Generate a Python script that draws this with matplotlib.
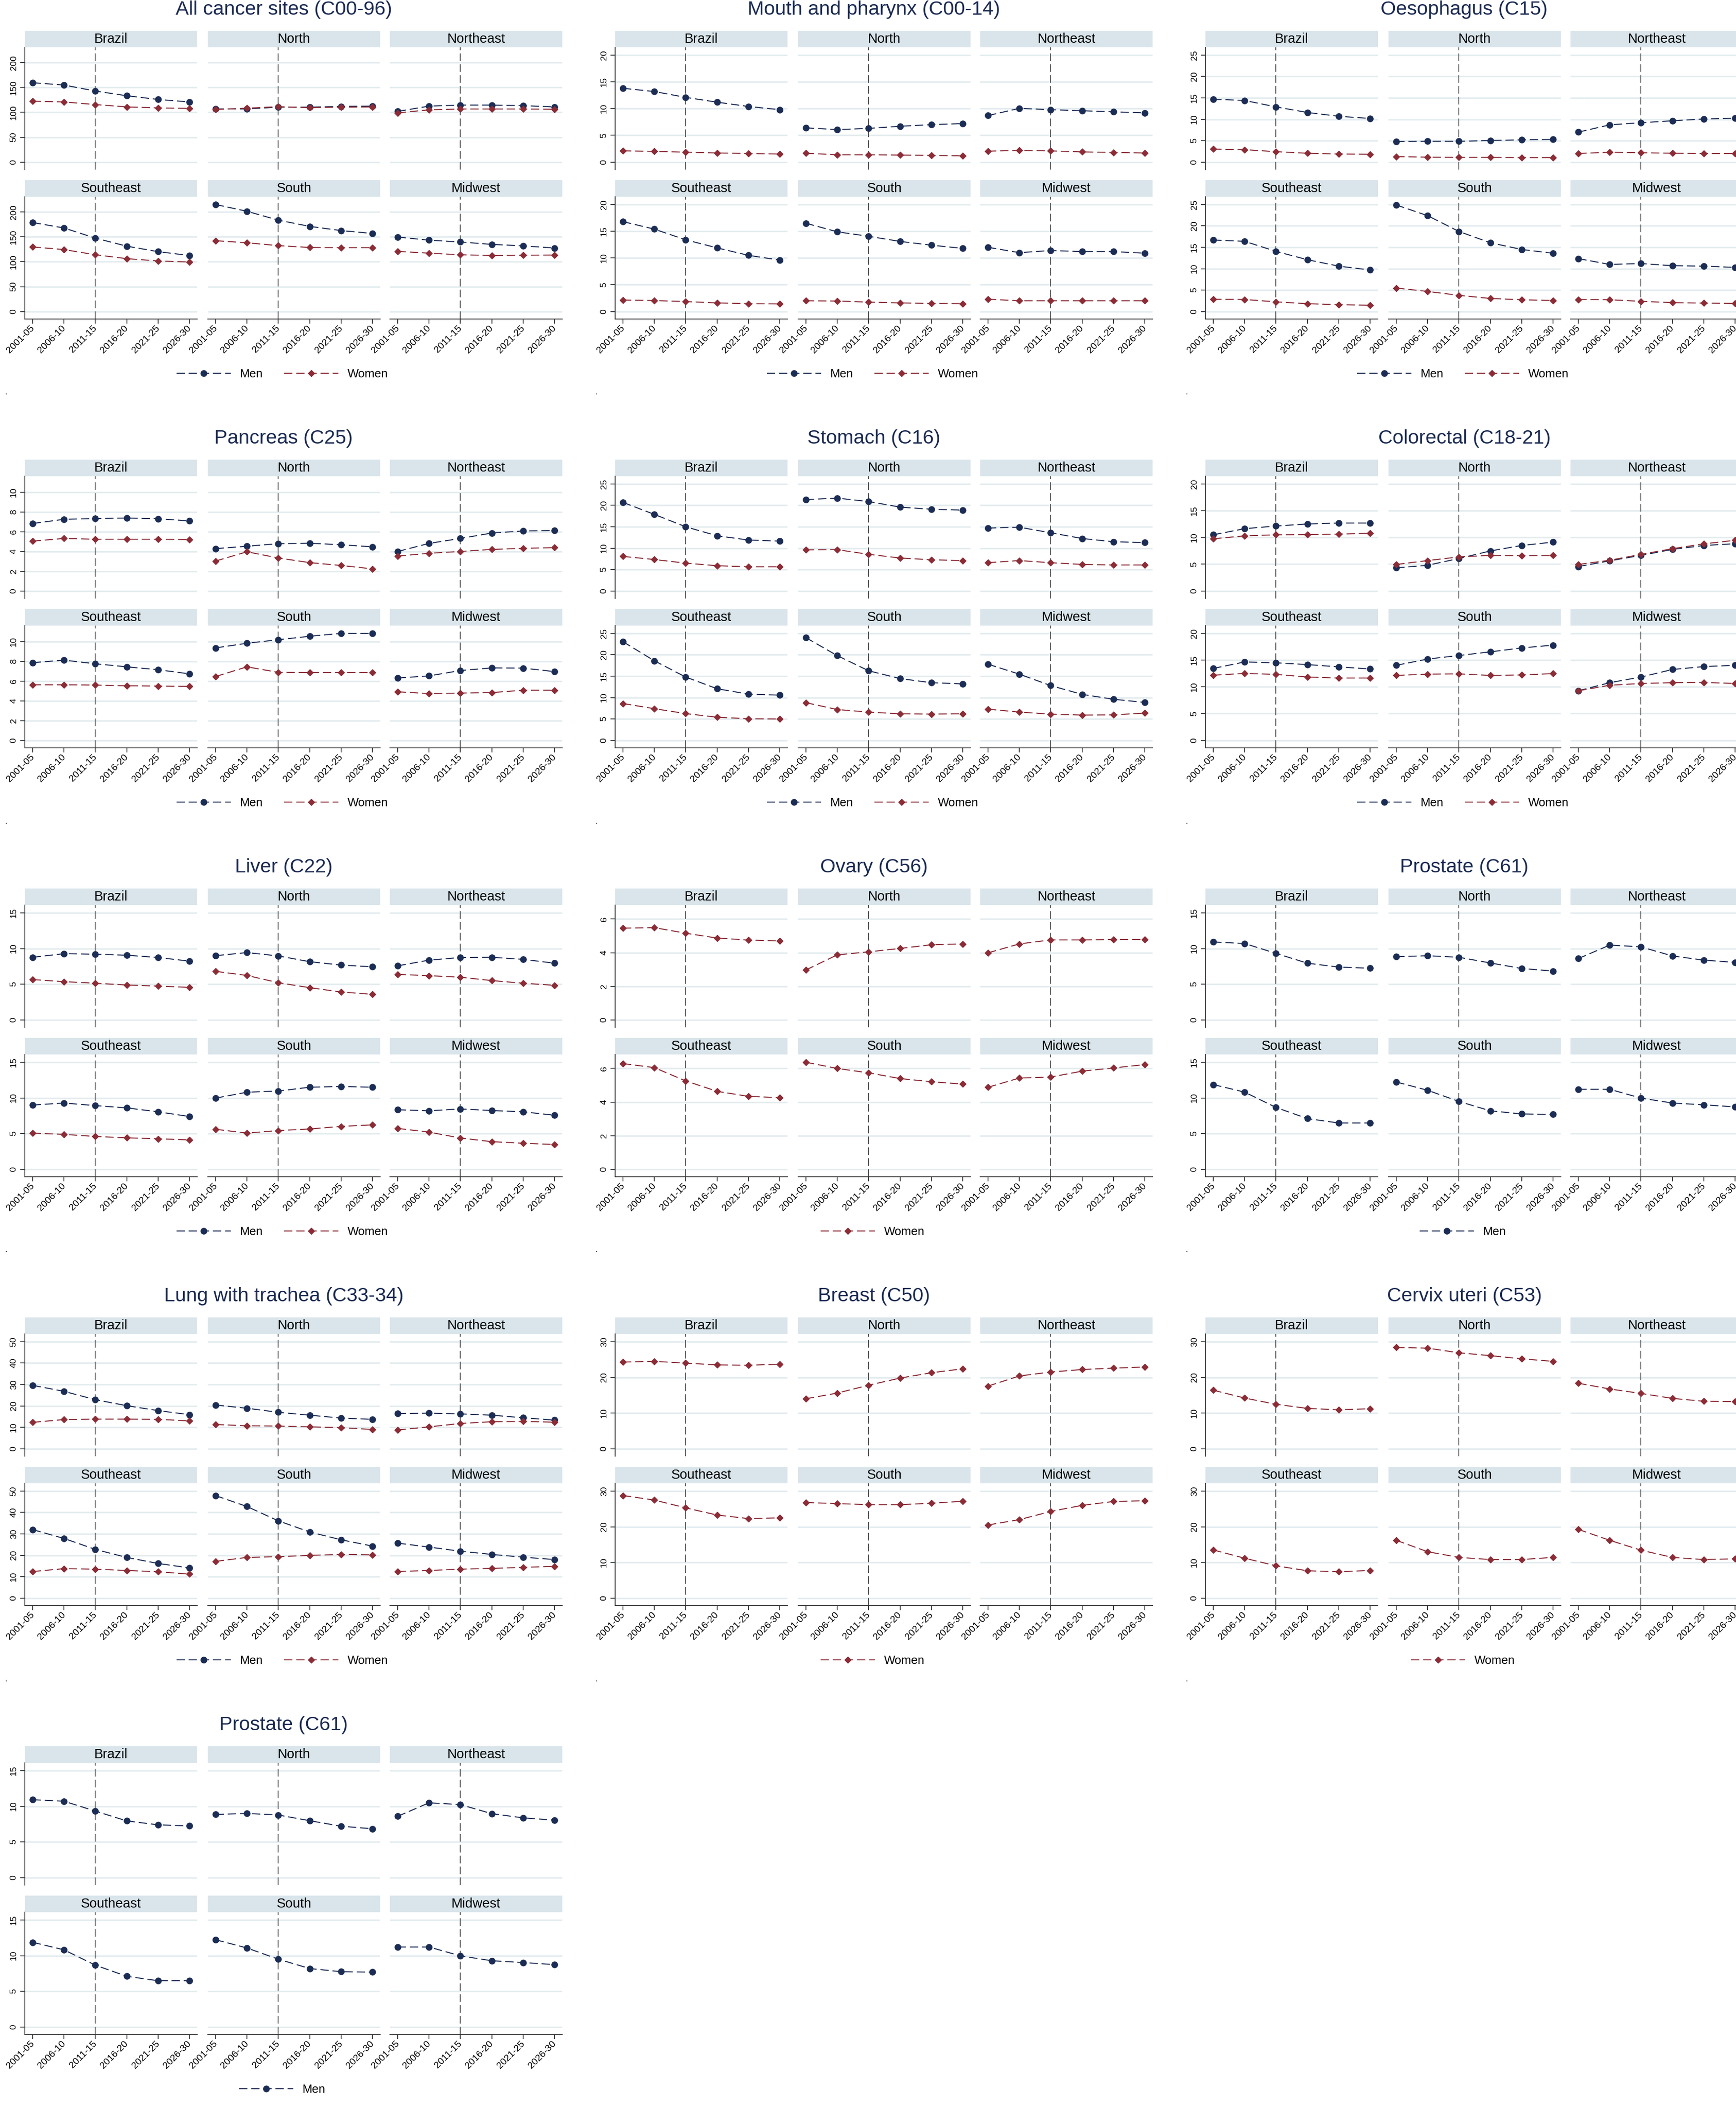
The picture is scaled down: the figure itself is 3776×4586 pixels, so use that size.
import numpy as np
import matplotlib.pyplot as plt
from matplotlib.lines import Line2D

plt.rcParams['font.family'] = ['Liberation Sans', 'DejaVu Sans']
plt.rcParams['lines.scale_dashes'] = False

periods = ['2001-05', '2006-10', '2011-15', '2016-20', '2021-25', '2026-30']
regions = ['Brazil', 'North', 'Northeast', 'Southeast', 'South', 'Midwest']

# values per region, in the order of `regions`
all_sites_men = [[159.7, 155.0, 143.0, 133.5, 126.0, 121.0],
                 [107.0, 107.0, 110.5, 110.5, 112.0, 112.6],
                 [102.0, 112.6, 114.7, 114.7, 113.6, 111.0],
                 [179.0, 168.0, 147.6, 131.4, 120.4, 112.6],
                 [215.2, 201.6, 183.8, 171.2, 162.8, 157.0],
                 [149.7, 143.5, 139.8, 135.0, 132.0, 127.7]]
all_sites_women = [[122.5, 121.0, 115.7, 111.0, 109.0, 108.0],
                   [105.8, 108.4, 111.5, 109.4, 110.5, 111.0],
                   [99.0, 105.2, 106.8, 106.8, 106.8, 106.3],
                   [129.8, 124.6, 114.1, 106.3, 101.6, 99.5],
                   [142.4, 138.2, 132.5, 128.8, 128.3, 128.3],
                   [121.0, 117.3, 114.1, 112.6, 113.1, 113.6]]

mouth_men = [[13.8, 13.2, 12.1, 11.2, 10.4, 9.8],
             [6.4, 6.07, 6.3, 6.7, 7.0, 7.2],
             [8.7, 10.05, 9.8, 9.6, 9.4, 9.2],
             [16.8, 15.4, 13.4, 11.9, 10.5, 9.6],
             [16.5, 14.9, 14.06, 13.1, 12.4, 11.8],
             [12.0, 11.0, 11.4, 11.2, 11.2, 10.9]]
mouth_women = [[2.1, 2.0, 1.85, 1.7, 1.6, 1.5],
               [1.65, 1.36, 1.36, 1.3, 1.26, 1.16],
               [2.04, 2.18, 2.09, 1.9, 1.8, 1.7],
               [2.14, 2.04, 1.85, 1.6, 1.46, 1.41],
               [2.0, 1.95, 1.75, 1.6, 1.5, 1.46],
               [2.29, 2.0, 2.0, 2.0, 2.0, 2.0]]

oesophagus_men = [[14.7, 14.4, 12.9, 11.6, 10.7, 10.2],
                  [4.8, 4.85, 4.85, 5.04, 5.2, 5.3],
                  [7.0, 8.7, 9.2, 9.65, 10.07, 10.25],
                  [16.7, 16.4, 14.05, 12.1, 10.6, 9.7],
                  [24.9, 22.4, 18.7, 16.06, 14.5, 13.6],
                  [12.35, 11.0, 11.2, 10.7, 10.6, 10.3]]
oesophagus_women = [[3.03, 2.9, 2.43, 2.06, 1.88, 1.82],
                    [1.27, 1.15, 1.09, 1.09, 1.03, 1.03],
                    [2.0, 2.3, 2.18, 2.06, 2.0, 2.0],
                    [2.86, 2.8, 2.25, 1.82, 1.58, 1.46],
                    [5.47, 4.68, 3.77, 3.04, 2.74, 2.55],
                    [2.8, 2.74, 2.37, 2.07, 1.95, 1.89]]

pancreas_men = [[6.84, 7.26, 7.34, 7.39, 7.32, 7.1],
                [4.29, 4.53, 4.79, 4.84, 4.68, 4.47],
                [4.0, 4.82, 5.32, 5.87, 6.08, 6.13],
                [7.87, 8.13, 7.76, 7.45, 7.16, 6.74],
                [9.37, 9.84, 10.2, 10.55, 10.84, 10.84],
                [6.32, 6.53, 7.08, 7.34, 7.32, 6.97]]
pancreas_women = [[5.05, 5.32, 5.24, 5.24, 5.24, 5.21],
                  [3.03, 3.97, 3.34, 2.87, 2.58, 2.24],
                  [3.53, 3.82, 4.0, 4.21, 4.32, 4.39],
                  [5.63, 5.63, 5.6, 5.53, 5.5, 5.47],
                  [6.47, 7.45, 6.89, 6.87, 6.87, 6.87],
                  [4.92, 4.74, 4.79, 4.84, 5.08, 5.08]]

stomach_men = [[20.7, 17.9, 15.0, 12.9, 11.9, 11.65],
               [21.36, 21.7, 20.9, 19.6, 19.1, 18.9],
               [14.7, 14.9, 13.6, 12.26, 11.5, 11.3],
               [23.06, 18.6, 14.8, 12.07, 10.8, 10.56],
               [24.0, 19.8, 16.26, 14.44, 13.47, 13.2],
               [17.8, 15.47, 12.8, 10.74, 9.6, 8.86]]
stomach_women = [[8.07, 7.34, 6.5, 5.9, 5.64, 5.64],
                 [9.6, 9.65, 8.56, 7.7, 7.28, 7.1],
                 [6.6, 7.1, 6.6, 6.2, 6.07, 6.07],
                 [8.6, 7.4, 6.25, 5.4, 5.04, 4.98],
                 [8.8, 7.2, 6.6, 6.2, 6.13, 6.2],
                 [7.28, 6.6, 6.13, 5.9, 5.95, 6.37]]

colorectal_men = [[10.5, 11.65, 12.14, 12.52, 12.7, 12.7],
                  [4.32, 4.8, 6.07, 7.48, 8.5, 9.13],
                  [4.56, 5.63, 6.65, 7.77, 8.5, 8.83],
                  [13.45, 14.66, 14.5, 14.17, 13.74, 13.35],
                  [14.03, 15.2, 15.87, 16.55, 17.28, 17.8],
                  [9.27, 10.78, 11.84, 13.25, 13.79, 14.03]]
colorectal_women = [[9.76, 10.3, 10.5, 10.53, 10.63, 10.78],
                    [4.95, 5.68, 6.36, 6.65, 6.6, 6.65],
                    [4.95, 5.73, 6.84, 7.9, 8.8, 9.47],
                    [12.18, 12.52, 12.33, 11.84, 11.65, 11.65],
                    [12.14, 12.38, 12.43, 12.14, 12.23, 12.48],
                    [9.27, 10.3, 10.63, 10.78, 10.83, 10.63]]

liver_men = [[8.77, 9.28, 9.2, 9.06, 8.74, 8.23],
             [9.0, 9.43, 8.96, 8.15, 7.68, 7.43],
             [7.57, 8.37, 8.74, 8.77, 8.48, 7.94],
             [9.0, 9.28, 8.92, 8.6, 8.05, 7.39],
             [9.97, 10.8, 10.96, 11.5, 11.6, 11.5],
             [8.34, 8.19, 8.45, 8.23, 8.05, 7.57]]
liver_women = [[5.64, 5.35, 5.13, 4.88, 4.73, 4.55],
               [6.8, 6.22, 5.2, 4.51, 3.9, 3.57],
               [6.37, 6.19, 5.97, 5.5, 5.13, 4.84],
               [5.06, 4.88, 4.59, 4.4, 4.26, 4.11],
               [5.6, 5.06, 5.42, 5.64, 6.0, 6.22],
               [5.72, 5.2, 4.37, 3.86, 3.64, 3.46]]

ovary_women = [[5.46, 5.49, 5.16, 4.87, 4.75, 4.7],
               [2.97, 3.87, 4.05, 4.25, 4.47, 4.52],
               [3.99, 4.52, 4.76, 4.76, 4.78, 4.78],
               [6.29, 6.05, 5.26, 4.64, 4.34, 4.26],
               [6.37, 6.0, 5.74, 5.4, 5.21, 5.07],
               [4.88, 5.43, 5.49, 5.84, 6.03, 6.23]]

prostate_men = [[10.92, 10.7, 9.32, 7.94, 7.39, 7.24],
                [8.85, 8.99, 8.77, 7.97, 7.2, 6.84],
                [8.59, 10.48, 10.23, 8.96, 8.37, 8.05],
                [11.87, 10.81, 8.66, 7.1, 6.48, 6.48],
                [12.23, 11.07, 9.5, 8.19, 7.75, 7.68],
                [11.21, 11.21, 9.97, 9.28, 9.03, 8.74]]

lung_men = [[29.6, 26.8, 22.9, 20.1, 17.8, 15.9],
            [20.4, 18.9, 17.0, 15.65, 14.3, 13.7],
            [16.4, 16.6, 16.26, 15.65, 14.44, 13.35],
            [32.0, 27.86, 22.75, 18.98, 16.18, 14.1],
            [47.9, 42.8, 36.1, 30.9, 27.25, 24.3],
            [25.67, 23.84, 21.9, 20.4, 19.1, 18.0]]
lung_women = [[12.3, 13.6, 13.8, 13.8, 13.7, 13.0],
              [11.3, 10.7, 10.56, 10.2, 9.83, 8.98],
              [8.74, 10.2, 11.77, 12.6, 12.74, 12.38],
              [12.4, 13.75, 13.5, 12.9, 12.3, 11.2],
              [17.15, 19.0, 19.34, 19.95, 20.4, 20.2],
              [12.4, 12.9, 13.5, 13.87, 14.35, 14.84]]

breast_women = [[24.3, 24.5, 24.0, 23.5, 23.4, 23.7],
                [14.0, 15.6, 17.8, 19.8, 21.3, 22.4],
                [17.55, 20.4, 21.5, 22.2, 22.6, 22.9],
                [28.76, 27.5, 25.3, 23.3, 22.3, 22.5],
                [26.8, 26.5, 26.2, 26.2, 26.6, 27.15],
                [20.5, 22.0, 24.3, 26.0, 27.1, 27.3]]

cervix_women = [[16.4, 14.2, 12.45, 11.3, 10.9, 11.2],
                [28.4, 28.2, 26.9, 26.1, 25.2, 24.5],
                [18.35, 16.75, 15.5, 14.1, 13.3, 13.2],
                [13.5, 11.17, 9.05, 7.66, 7.37, 7.74],
                [16.2, 13.0, 11.4, 10.8, 10.8, 11.4],
                [19.27, 16.2, 13.43, 11.4, 10.8, 11.0]]

# (title, men, women, y tick top, y tick step)
sites = [
    ('All cancer sites (C00-96)', all_sites_men, all_sites_women, 200, 50),
    ('Mouth and pharynx (C00-14)', mouth_men, mouth_women, 20, 5),
    ('Oesophagus (C15)', oesophagus_men, oesophagus_women, 25, 5),
    ('Pancreas (C25)', pancreas_men, pancreas_women, 10, 2),
    ('Stomach (C16)', stomach_men, stomach_women, 25, 5),
    ('Colorectal (C18-21)', colorectal_men, colorectal_women, 20, 5),
    ('Liver (C22)', liver_men, liver_women, 15, 5),
    ('Ovary (C56)', None, ovary_women, 6, 2),
    ('Prostate (C61)', prostate_men, None, 15, 5),
    ('Lung with trachea (C33-34)', lung_men, lung_women, 50, 10),
    ('Breast (C50)', None, breast_women, 30, 10),
    ('Cervix uteri (C53)', None, cervix_women, 30, 10),
    ('Prostate (C61)', prostate_men, None, 15, 5),
]

MEN = '#1c2d55'
WOMEN = '#8b2c36'
TITLE = '#1a2a52'
STRIP = '#d9e5eb'
GRID = '#e3ecef'
AXIS = '#333333'

W, H = 3776, 4586
fig = plt.figure(figsize=(W / 100, H / 100), dpi=100)


def box(x, y, w, h):
    # pixel box measured from top-left -> figure fraction
    return [x / W, 1 - (y + h) / H, w / W, h / H]


series_dash = (0, (13, 6))
ref_dash = (0, (12, 5))
x = np.arange(len(periods))
col_x = [54, 452, 848]
PW = 375

for i, (title, men, women, ytop, ystep) in enumerate(sites):
    bx = (i % 3) * 1284
    S = 67 + (i // 3) * 933
    ticks = np.arange(0, ytop + ystep / 2, ystep)
    vals = [v for s in (men, women) if s is not None for r in s for v in r]
    r1 = max(ytop, max(vals))
    lo, hi = -0.0706 * r1, r1 * 1.073

    fig.text((bx + 617) / W, 1 - (S - 46) / H, title, ha='center', va='center',
             fontsize=31, color=TITLE)

    for j, reg in enumerate(regions):
        r, c = divmod(j, 3)
        top = S + r * 325
        sax = fig.add_axes(box(bx + col_x[c], top, PW, 36))
        sax.set_facecolor(STRIP)
        sax.set_xticks([])
        sax.set_yticks([])
        for sp in sax.spines.values():
            sp.set_visible(False)
        sax.text(0.5, 0.5, reg, ha='center', va='center', fontsize=21,
                 transform=sax.transAxes)

        ax = fig.add_axes(box(bx + col_x[c], top + 36, PW, 266))
        ax.set_xlim(-0.25, 5.25)
        ax.set_ylim(lo, hi)
        for t in ticks:
            ax.axhline(t, color=GRID, lw=2.4, zorder=0)
        ax.axvline(2, color='#4d4d4d', lw=1.3, ls=ref_dash, zorder=1)
        if men is not None:
            ax.plot(x, men[j], color=MEN, lw=1.6, ls=series_dash, marker='o',
                    ms=9.5, zorder=3)
        if women is not None:
            ax.plot(x, women[j], color=WOMEN, lw=1.6, ls=series_dash, marker='D',
                    ms=7, zorder=3)

        for sp in ax.spines.values():
            sp.set_visible(False)
            sp.set_color(AXIS)
            sp.set_linewidth(1.3)
        ax.set_yticks(ticks)
        ax.set_xticks(x)
        if c == 0:
            ax.spines['left'].set_visible(True)
            ax.set_yticklabels([str(int(t)) for t in ticks], rotation=90, va='center')
            ax.tick_params(axis='y', length=7, width=1.3, color=AXIS, labelsize=14,
                           pad=4)
        else:
            ax.tick_params(axis='y', left=False, labelleft=False)
        if r == 1:
            ax.spines['bottom'].set_visible(True)
            ax.set_xticklabels(periods, rotation=45, ha='right', va='center',
                               rotation_mode='anchor')
            ax.tick_params(axis='x', length=7, width=1.3, color=AXIS, labelsize=15,
                           pad=5)
        else:
            ax.tick_params(axis='x', bottom=False, labelbottom=False)

    handles, labels = [], []
    if men is not None:
        handles.append(Line2D([], [], color=MEN, lw=1.6, ls=series_dash, marker='o', ms=9.5))
        labels.append('Men')
    if women is not None:
        handles.append(Line2D([], [], color=WOMEN, lw=1.6, ls=series_dash, marker='D', ms=7))
        labels.append('Women')
    fig.legend(handles, labels, loc='center', ncol=len(handles), frameon=False,
               bbox_to_anchor=((bx + 614) / W, 1 - (S + 747) / H), fontsize=18.5,
               handlelength=4.6, handletextpad=0.77, columnspacing=1.8, numpoints=1)
    fig.text((bx + 10) / W, 1 - (S + 787) / H, '.', fontsize=14, va='center')

fig.savefig('out.png', dpi=100, facecolor='white')
